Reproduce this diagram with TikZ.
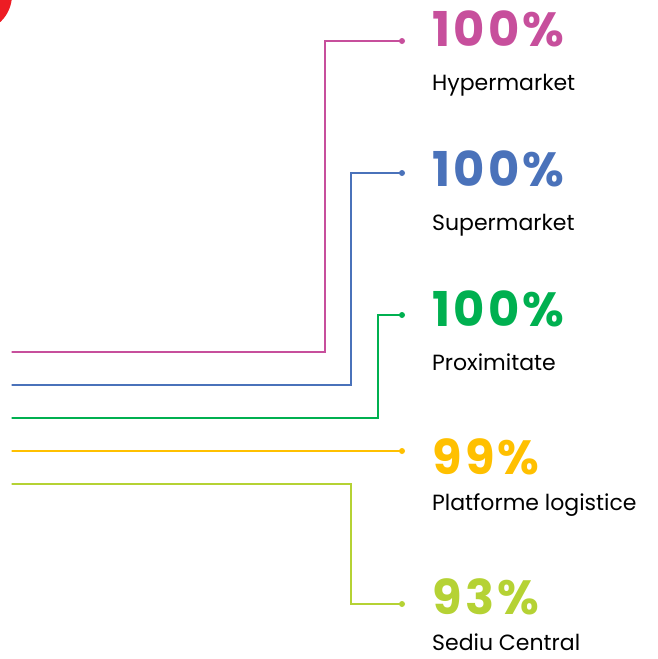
\documentclass[tikz,border=0pt]{standalone}
\usepackage{fontspec}
\setmainfont{Poppins}
\newfontfamily\numfont{Poppins}[BoldFont={* Bold},LetterSpace=7]
\usepackage{tikz}
\definecolor{ros}{RGB}{199,79,156}
\definecolor{bla}{RGB}{74,114,186}
\definecolor{gru}{RGB}{0,176,80}
\definecolor{gel}{RGB}{255,192,0}
\definecolor{lim}{RGB}{181,210,52}
\definecolor{rot}{RGB}{237,28,36}
\begin{document}
\begin{tikzpicture}[x=1pt,y=-1pt,line cap=round]
	\tikzstyle{punkt}=[circle,inner sep=0pt,minimum size=6pt];
	\tikzstyle{wert}=[anchor=base west,inner sep=0pt,font=\numfont\bfseries\fontsize{48}{48}\selectfont];
	\tikzstyle{titel}=[anchor=base west,inner sep=0pt,font=\fontsize{22}{22}\selectfont,text=black];
	\tikzstyle{linie}=[line width=1.3pt];
%<--------------------------------------------------------------------------->%
	\useasboundingbox (0,0) rectangle (657,659);
	\fill[rot] (-25,-5) circle (37);
	%% Start and bend points
	\coordinate (s1) at (12,352);
	\coordinate (s2) at (12,385);
	\coordinate (s3) at (12,418);
	\coordinate (s4) at (12,451);
	\coordinate (s5) at (12,484);
	\coordinate (k1) at (325,41);
	\coordinate (k2) at (351,173);
	\coordinate (k3) at (378,315);
	\coordinate (k5) at (351,604);
	%% Dots
	\node[punkt,fill=ros] (d1) at (402,41)  {};
	\node[punkt,fill=bla] (d2) at (402,173) {};
	\node[punkt,fill=gru] (d3) at (402,315) {};
	\node[punkt,fill=gel] (d4) at (402,451) {};
	\node[punkt,fill=lim] (d5) at (402,604) {};
	%% Lines
	\draw[linie,ros] (s1) -| (k1) -- (d1.center);
	\draw[linie,bla] (s2) -| (k2) -- (d2.center);
	\draw[linie,gru] (s3) -| (k3) -- (d3.center);
	\draw[linie,gel] (s4) -- (d4.center);
	\draw[linie,lim] (s5) -| (k5) -- (d5.center);
	%% Values and names
	\node[wert,text=ros] (w1) at (432,46)  {100\%};
	\node[wert,text=bla] (w2) at (432,186) {100\%};
	\node[wert,text=gru] (w3) at (432,326) {100\%};
	\node[wert,text=gel] (w4) at (432,474) {99\%};
	\node[wert,text=lim] (w5) at (432,614) {93\%};
	\node[titel] (n1) at (432,90)  {Hypermarket};
	\node[titel] (n2) at (432,230) {Supermarket};
	\node[titel] (n3) at (432,370) {Proximitate};
	\node[titel] (n4) at (432,510) {Platforme logistice};
	\node[titel] (n5) at (432,650) {Sediu Central};
\end{tikzpicture}
\end{document}
